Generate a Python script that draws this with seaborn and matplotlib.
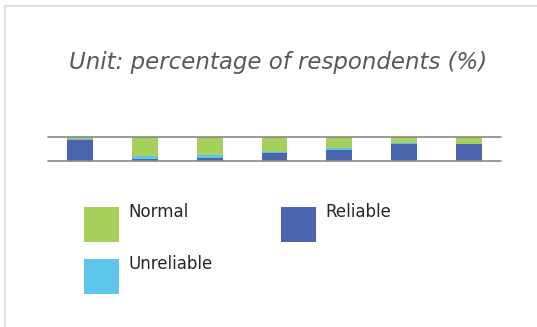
import seaborn as sns
import matplotlib.pyplot as plt
from matplotlib.patches import Rectangle
from matplotlib.lines import Line2D
import pandas as pd

# Dados (percentagem de respondentes)
grupos = ["G1", "G2", "G3", "G4", "G5", "G6", "G7"]
reliable = [89, 11, 15, 36, 49, 74, 72]
unreliable = [4, 11, 12, 4, 7, 4, 1]
normal = [7, 78, 73, 60, 44, 22, 27]

cor_normal = "#a5d05b"
cor_unrel = "#5bc6ea"
cor_rel = "#4a64ae"

df = pd.DataFrame({"grupo": grupos, "Reliable": reliable,
                   "Unreliable": unreliable, "Normal": normal})
df["ate_unrel"] = df["Reliable"] + df["Unreliable"]
df["total"] = df["ate_unrel"] + df["Normal"]

sns.set_style("white")
W, H = 537, 327
fig = plt.figure(figsize=(W / 100, H / 100), dpi=100)
ax = fig.add_axes([48 / W, (H - 161.3) / H, 453 / W, 24 / H])

# barras empilhadas: desenha do total para a base
for col, cor, z in [("total", cor_normal, 2), ("ate_unrel", cor_unrel, 3),
                    ("Reliable", cor_rel, 4)]:
    sns.barplot(data=df, x="grupo", y=col, color=cor, width=0.4,
                saturation=1, linewidth=0, edgecolor="none", ax=ax, zorder=z)

ax.set_ylim(0, 100)
ax.set_xlim(-0.5, 6.5)
for y in (0, 100):
    ax.axhline(y, color="#898989", lw=1.2, zorder=5, clip_on=False)
for s in ax.spines.values():
    s.set_visible(False)
ax.set_xticks([])
ax.set_yticks([])
ax.set_xlabel("")
ax.set_ylabel("")
ax.patch.set_alpha(0)

# titulo
fig.text(278 / W, 1 - 63 / H, "Unit: percentage of respondents (%)",
         ha="center", va="center", fontsize=16.5, style="italic", color="#595959")

# legenda manual
itens = [("Normal", cor_normal, 84, 207), ("Reliable", cor_rel, 281, 207),
         ("Unreliable", cor_unrel, 84, 259)]
for nome, cor, x0, y0 in itens:
    fig.add_artist(Rectangle((x0 / W, 1 - (y0 + 35) / H), 35 / W, 35 / H,
                             transform=fig.transFigure, color=cor, lw=0))
    fig.text((x0 + 44) / W, 1 - (y0 - 4) / H, nome, ha="left", va="top",
             fontsize=12, color="#262626")

# moldura
fig.add_artist(Line2D([5 / W, 1], [1 - 6 / H] * 2, color="#d9d9d9", lw=1.2))
fig.add_artist(Line2D([5 / W] * 2, [0, 1 - 6 / H], color="#d9d9d9", lw=1.2))

fig.savefig("out.png", dpi=100)
